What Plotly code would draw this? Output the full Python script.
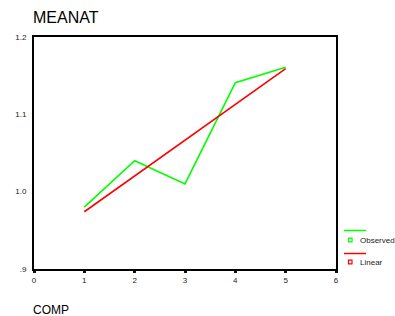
import plotly.graph_objects as go

comp = [1, 2, 3, 4, 5]
observed = [0.980, 1.040, 1.010, 1.141, 1.161]
linear = [0.974, 1.020, 1.066, 1.113, 1.159]
x_ticks = [0, 1, 2, 3, 4, 5, 6]
y_ticks = [0.9, 1.0, 1.1, 1.2]
y_tick_labels = [".9", "1.0", "1.1", "1.2"]

FONT = "Liberation Sans, Arial, sans-serif"
GREEN = "#00ff00"
RED = "#ff0000"
TXT = "#222222"

fig = go.Figure()
fig.add_trace(go.Scatter(x=comp, y=observed, mode="lines", line=dict(color=GREEN, width=1.6),
                         name="Observed", showlegend=False, hoverinfo="skip"))
fig.add_trace(go.Scatter(x=comp, y=linear, mode="lines", line=dict(color=RED, width=1.6),
                         name="Linear", showlegend=False, hoverinfo="skip"))

fig.update_layout(
    width=395, height=316,
    margin=dict(l=34, r=59, t=37, b=47),
    paper_bgcolor="white", plot_bgcolor="white",
    font=dict(family=FONT, color=TXT, size=8),
    xaxis=dict(range=[0, 6], tickvals=x_ticks, ticktext=[str(v) for v in x_ticks],
               showgrid=False, zeroline=False, showline=True, linecolor="black", linewidth=2,
               mirror=True, ticks="outside", ticklen=2, tickwidth=3, tickcolor="#111111",
               tickfont=dict(size=8, family=FONT, color=TXT), automargin=False),
    yaxis=dict(range=[0.9, 1.2], tickvals=y_ticks, ticktext=y_tick_labels,
               showgrid=False, zeroline=False, showline=True, linecolor="black", linewidth=2,
               mirror=True, ticks="", tickfont=dict(size=8, family=FONT, color=TXT),
               ticklabelstandoff=4, automargin=False),
)

# Title and axis label
fig.add_annotation(text="MEANAT", xref="paper", yref="paper", x=0, y=1, xshift=-3, yshift=9,
                   xanchor="left", yanchor="bottom", showarrow=False,
                   font=dict(size=16, family=FONT, color="black"))
fig.add_annotation(text="COMP", xref="paper", yref="paper", x=0, y=0, xshift=-3, yshift=-32,
                   xanchor="left", yanchor="top", showarrow=False,
                   font=dict(size=12, family=FONT, color="black"))

# Custom legend
def legend_item(color, label, y_line_px, y_text_px):
    fig.add_shape(type="line", xref="paper", yref="paper",
                  x0=(344 - 34) / 302, x1=(366 - 34) / 302,
                  y0=(269 - y_line_px) / 232, y1=(269 - y_line_px) / 232,
                  line=dict(color=color, width=1.5))
    fig.add_shape(type="rect", xref="paper", yref="paper",
                  x0=(348.5 - 34) / 302, x1=(352 - 34) / 302,
                  y0=(269 - y_text_px - 1.8) / 232, y1=(269 - y_text_px + 1.8) / 232,
                  line=dict(color=color, width=1.2), fillcolor="white")
    fig.add_annotation(text=label, xref="paper", yref="paper",
                       x=(358 - 34) / 302, y=(269 - y_text_px) / 232,
                       xanchor="left", yanchor="middle", showarrow=False,
                       font=dict(size=8, family=FONT, color=TXT))

legend_item(GREEN, "Observed", 230.5, 240)
legend_item(RED, "Linear", 253.5, 262)

fig.write_html("out.html", config={"displayModeBar": False},
               post_script="document.body.style.margin='0';")
